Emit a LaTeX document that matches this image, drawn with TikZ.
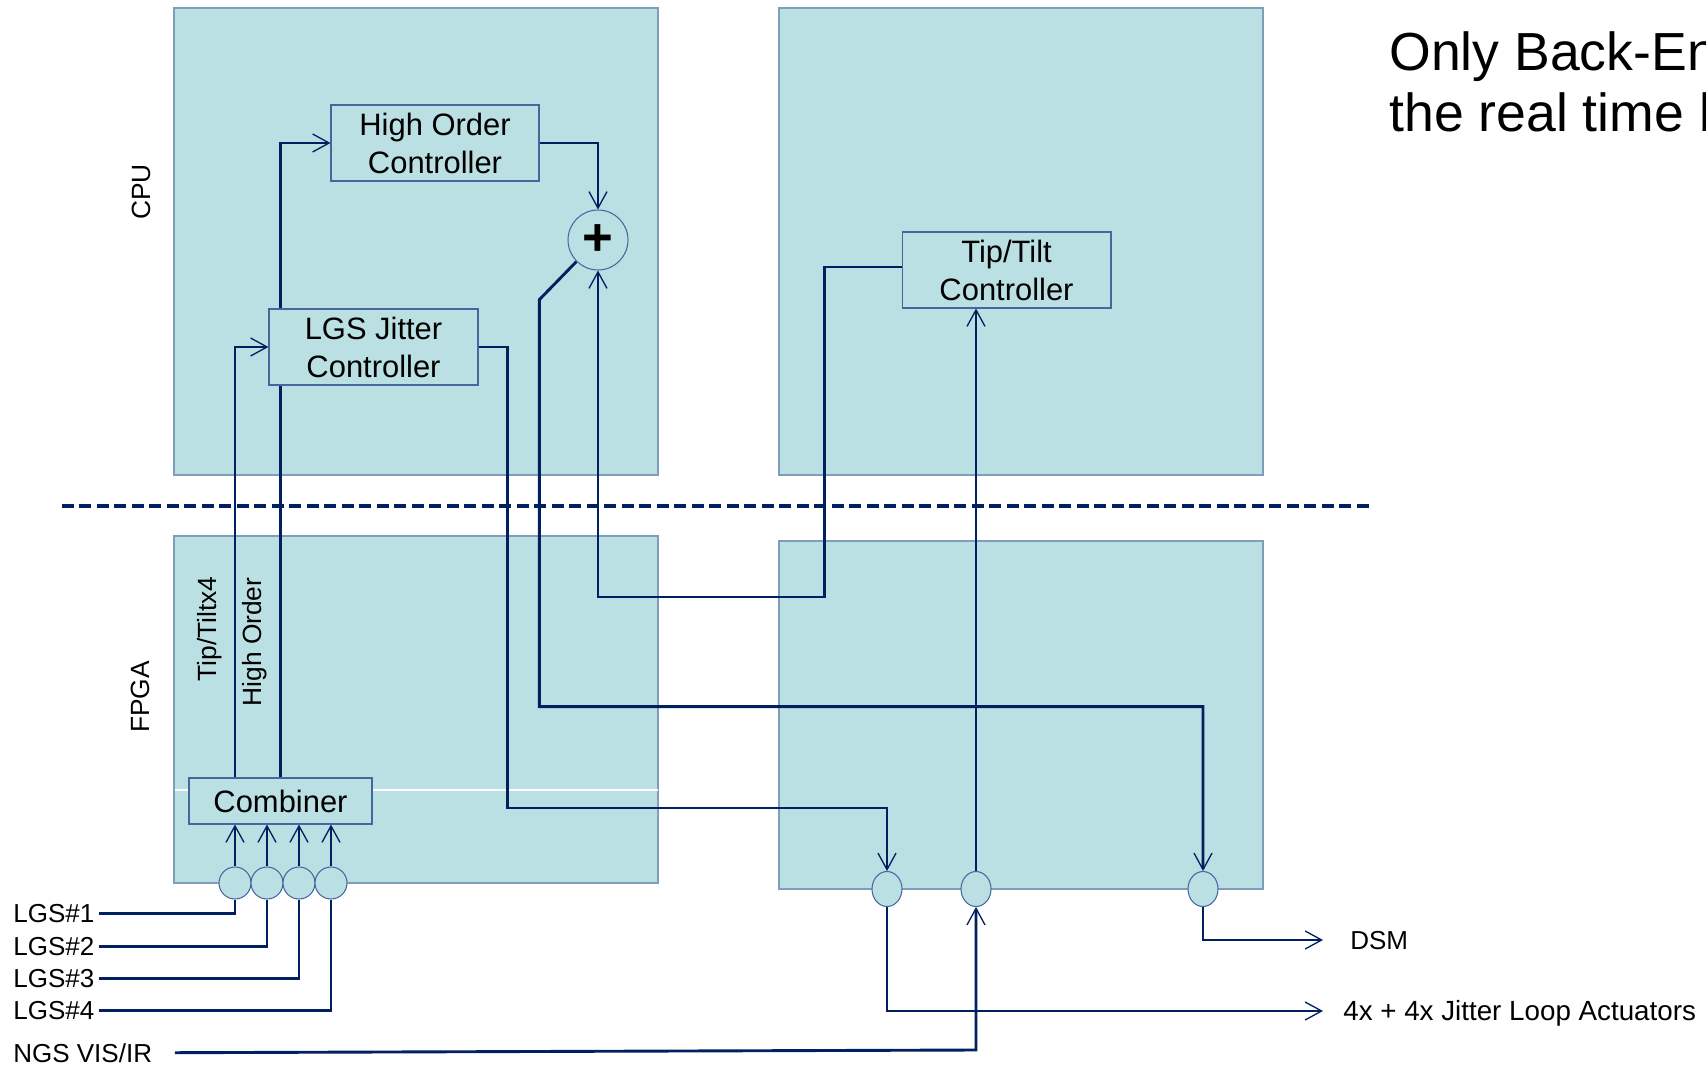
\documentclass[tikz,border=0pt]{standalone}
\usepackage{fontspec}
\setmainfont{Liberation Sans}
\usetikzlibrary{arrows.meta, shapes.geometric}
\definecolor{panelfill}{RGB}{187,224,227}
\definecolor{paneledge}{RGB}{128,158,188}
\definecolor{wirenavy}{RGB}{0,32,96}
\definecolor{boxedge}{RGB}{72,102,158}
\pgfdeclarelayer{panels}
\pgfdeclarelayer{wires}
\pgfsetlayers{panels,wires,main}
\tikzstyle{wire}=[line width=1.65pt, color=wirenavy]
\tikzstyle{arrow}=[wire, -{Straight Barb[length=0.33cm, width=0.36cm, line width=0.75pt]}]

\begin{document}
\begin{tikzpicture}[x=0.02cm, y=0.02cm,
  panel/.style={fill=panelfill, draw=paneledge, line width=0.8pt},
  ctrlbox/.style={rectangle, draw=boxedge, fill=panelfill, line width=0.6pt,
                  minimum width=4.18cm, minimum height=1.52cm, inner sep=0pt,
                  align=center, font=\fontsize{17.6}{21.6}\selectfont},
  sumnode/.style={circle, draw=boxedge, fill=panelfill, line width=0.6pt,
                  minimum size=1.2cm, inner sep=0pt,
                  font=\fontsize{30}{30}\selectfont\bfseries},
  port/.style={circle, draw=boxedge, fill=panelfill, line width=0.6pt,
               minimum size=0.64cm, inner sep=0pt},
  outport/.style={ellipse, draw=boxedge, fill=panelfill, line width=0.6pt,
                  minimum width=0.6cm, minimum height=0.7cm, inner sep=0pt},
  sidelabel/.style={rotate=90, font=\fontsize{15}{18}\selectfont},
  iolabel/.style={anchor=base west, inner sep=2.5pt,
                  font=\fontsize{14.8}{18}\selectfont},
  notetext/.style={anchor=base west, inner sep=0pt,
                   font=\fontsize{30.5}{36}\selectfont}
]
\useasboundingbox (0,0) rectangle (1706,-1067);

% CPU / FPGA panels
\begin{pgfonlayer}{panels}
\draw[panel] (174,-8) rectangle (658,-475);
\draw[panel] (779,-8) rectangle (1263,-475);
\draw[panel] (174,-536) rectangle (658,-883);
\draw[panel] (779,-541) rectangle (1263,-889);
\draw[white, line width=0.6pt] (175,-790) -- (658,-790);
\end{pgfonlayer}

\node[ctrlbox, minimum width=4.16cm] (hoc) at (435,-143) {High Order\\Controller};
\node[ctrlbox] (jit) at (373.5,-347) {LGS Jitter\\Controller};
\node[ctrlbox] (ttc) at (1006.5,-270) {Tip/Tilt\\Controller};
\node[ctrlbox, minimum width=3.66cm, minimum height=0.92cm] (comb) at (280.5,-801) {Combiner};
\node[sumnode] (sum) at (598,-240) {+};

\foreach \i/\x in {1/235,2/267,3/299,4/331}
  \node[port] (lgsin\i) at (\x,-883) {};
\node[outport] (jitout) at (887,-889) {};
\node[outport] (ngsin)  at (976,-889) {};
\node[outport] (dsmout) at (1203,-889) {};

\node[sidelabel] (cpulab)  at (141,-192) {CPU};
\node[sidelabel] (fpgalab) at (140,-697) {FPGA};
\node[sidelabel] (ttlab)   at (210,-629) {Tip/Tiltx4};
\node[sidelabel] (holab)   at (255,-642) {High Order};

\foreach \i/\y in {1/922,2/955,3/987,4/1019}
  \node[iolabel] (lgslab\i) at (8.6,-\y) {LGS\#\i};
\node[iolabel] (ngslab) at (8.6,-1062) {NGS VIS/IR};
\node[iolabel] (dsmlab) at (1345.6,-949) {DSM};
\node[iolabel, font=\fontsize{15.8}{18}\selectfont] (actlab) at (1338.6,-1020) {4x + 4x Jitter Loop Actuators};
\coordinate (dsmend) at (1323,-940);
\coordinate (actend) at (1323,-1011);

\node[notetext] (note1) at (1389,-71) {Only Back-En};
\node[notetext] (note2) at (1389,-132) {the real time b};

\begin{pgfonlayer}{wires}
\draw[wirenavy, line width=1.9pt, dash pattern=on 0.24cm off 0.11cm] (62,-506) -- (1369,-506);
\foreach \i in {1,...,4} {
  \draw[wire] (lgslab\i.east) -| (lgsin\i);
  \draw[arrow] (lgsin\i) -- (lgsin\i |- comb.south);
}
\draw[arrow] (comb.north -| lgsin1) |- (jit.west);
\draw[arrow] (comb.north) |- (hoc.west);
\draw[arrow] (hoc.east) -| (sum.north);
\draw[arrow] (sum.225) -- ++(-37,-38) -- ++(0,-407) -| (dsmout.north);
\draw[arrow] (jit.east) -- ++(29,0) -- ++(0,-461) -| (jitout.north);
\draw[arrow] ([yshift=0.06cm]ttc.west) -- ++(-77,0) -- ++(0,-330) -| (sum.south);
\draw[arrow] (ngsin) -- (ngsin |- ttc.south);
\draw[arrow] ([xshift=0.36cm]ngslab.east) -- (ngsin |- 0,-1050) -- (ngsin);
\draw[arrow] (jitout) |- (actend);
\draw[arrow] (dsmout) |- (dsmend);
\end{pgfonlayer}
\end{tikzpicture}
\end{document}
